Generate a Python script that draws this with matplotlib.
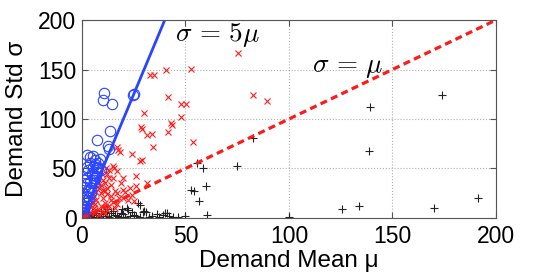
import matplotlib
matplotlib.use("Agg")
import matplotlib.pyplot as plt
import numpy as np

# points with sigma > 5 mu
blue_mu = [10.8, 10.3, 14.3, 24.5, 25.2, 13.5, 7.4, 12.7, 13.2, 2.3, 5.2, 6.3, 7.9, 3.9,
           5.5, 7.9, 3.0, 7.1, 4.7, 2.3, 3.9, 1.4, 0.6, 2.3, 0.5, 0.8, 6.5, 5.8, 4.5, 3.5,
           2.5, 1.8, 1.2, 0.3, 5.0, 6.8, 2.0, 3.2, 1.5, 4.2, 6.0, 7.0, 1.0, 2.8, 0.4, 0.2,
           8.5, 9.0, 4.0, 6.5, 2.6, 1.5, 1.0]
blue_sd = [126.6, 119, 115, 124, 125.5, 88, 79, 73, 70, 63.6, 62.6, 58.6, 55.9, 55.2,
           51.8, 51.8, 48.5, 46.8, 43.4, 40, 36.7, 31.6, 25, 18.2, 11, 5, 40, 35, 30, 27,
           22, 15, 9, 3, 45, 50, 34, 20, 12, 25, 38, 42, 18, 28, 2, 6,
           60, 48, 62, 55, 52, 45, 38]

# points with mu < sigma < 5 mu
red_mu = [75.2, 52.7, 40.6, 32.9, 34.8, 82.4, 89.2, 41.4, 47.7, 50.2, 47.8, 30.1, 42.8, 43.3,
          41.7, 28.3, 28.8, 31.2, 33.7, 34.1, 53.5, 16.7, 18.5, 17.5, 24, 28, 28.8, 15, 15.5,
          16.7, 26, 13, 12, 31.2, 26, 19.7, 20.8, 17, 16, 15.1, 14, 12, 11, 10, 9, 8, 10, 11,
          13, 7, 6, 9, 8, 6, 5, 4, 3, 4.5, 2, 3, 12, 18, 22, 10, 7.5, 9.5, 11.5, 20, 14, 13,
          19, 23, 6, 8, 5, 7, 10, 16, 12, 15, 9, 11, 6.5, 14, 17, 4, 3.5, 2.5, 20, 24, 25, 11]
red_sd = [166.3, 151, 149.5, 144.4, 144.4, 124, 118, 122.5, 115, 115, 101.7, 106.4, 95.6, 94,
          87.2, 91.6, 89.6, 83.8, 84.5, 72, 77, 72, 67, 69, 64.3, 57.9, 58.5, 53, 51,
          47.8, 42.4, 40, 44, 35, 32.6, 28.3, 26.6, 25, 27, 16.5, 22, 30, 35, 38, 25, 30, 20, 15,
          12, 18, 22, 12, 8, 10, 15, 12, 8, 5, 6, 3, 8, 20, 18, 28, 35, 44, 50, 40, 33, 48,
          35, 30, 5, 3, 20, 26, 6, 10, 24, 40, 33, 27, 14, 18, 14, 18, 13, 10, 20, 23, 17, 5]

# points with sigma < mu
blk_mu = [173.7, 139.1, 138.6, 82.8, 74.7, 55.7, 58.3, 60, 54, 52.5, 56.7, 60.5, 100.2, 125.8,
          133.8, 170, 191.5, 28, 27.2, 29.6, 22.4, 19.2, 21.9, 40, 39, 41, 46.5, 32.5, 30, 31,
          25, 23, 20, 18, 16, 14, 12, 10, 8, 6, 4, 2, 1, 3, 5, 7, 9, 11, 13, 15, 17, 19, 21,
          24, 26, 28, 34, 36, 44, 50, 0.5, 1.5, 2.5, 42, 37, 9, 12, 5]
blk_sd = [124, 111.8, 68, 80.5, 52.5, 56, 50, 32, 27.6, 28.3, 17.5, 3.5, 1.3, 8.8,
          12, 10.4, 19.9, 13, 14.8, 6.4, 8, 8.8, 9.8, 4.7, 3, 5, 0.5, 1.5, 7, 6,
          3, 2, 4, 1, 3, 5, 2, 4, 1, 3, 2, 1, 0.5, 4, 0.5, 5, 2, 6, 1, 7, 2, 5, 1,
          6, 2, 1, 2, 4, 1, 2, 2, 3, 0.3, 2, 1, 7, 9, 6]

line_mu = [0, 200]

plt.rcParams['font.family'] = ['Liberation Sans', 'DejaVu Sans']
plt.rcParams['mathtext.fontset'] = 'cm'

fig = plt.figure(figsize=(5.48, 2.74), dpi=100)
ax = fig.add_axes([0.1496, 0.2044, 0.7555, 0.7226])

blue = '#2a44ff'
red = '#ff1a1a'

ax.plot(blk_mu, blk_sd, '+', color='#222222', ms=6, mew=0.8)
ax.plot(red_mu, red_sd, 'x', color=red, ms=4.5, mew=0.8)
ax.plot(blue_mu, blue_sd, 'o', mfc='none', mec=blue, ms=7.5, mew=0.8)
ax.plot(line_mu, [5 * m for m in line_mu], '-', color=blue, lw=2)
ax.plot(line_mu, line_mu, '--', color=red, lw=2.3, dashes=(2.2, 1.4))

ax.text(45, 185, r'$\sigma\,=\,5\mu$', fontsize=19.5, ha='left', va='center')
ax.text(111, 153, r'$\sigma\,=\,\mu$', fontsize=19.5, ha='left', va='center')

ax.set_xlim(0, 200)
ax.set_ylim(0, 200)
ax.set_xticks([0, 50, 100, 150, 200])
ax.set_yticks([0, 50, 100, 150, 200])
ax.grid(True, linestyle=':', color='#b0b0b0', lw=0.8)
ax.tick_params(direction='in', length=4, top=True, right=True, labelsize=16.5,
               color='#555555', pad=4)
ax.tick_params(axis='x', pad=5)
for s in ax.spines.values():
    s.set_color('#555555')

ax.set_xlabel('Demand Mean μ', fontsize=17.5)
ax.set_ylabel('Demand Std σ', fontsize=17.5)
ax.xaxis.set_label_coords(0.5, -0.215)
ax.xaxis.label.set_va('center')
ax.yaxis.set_label_coords(-0.158, 0.5)
ax.yaxis.label.set_va('center')

fig.savefig('out.png', dpi=100)
